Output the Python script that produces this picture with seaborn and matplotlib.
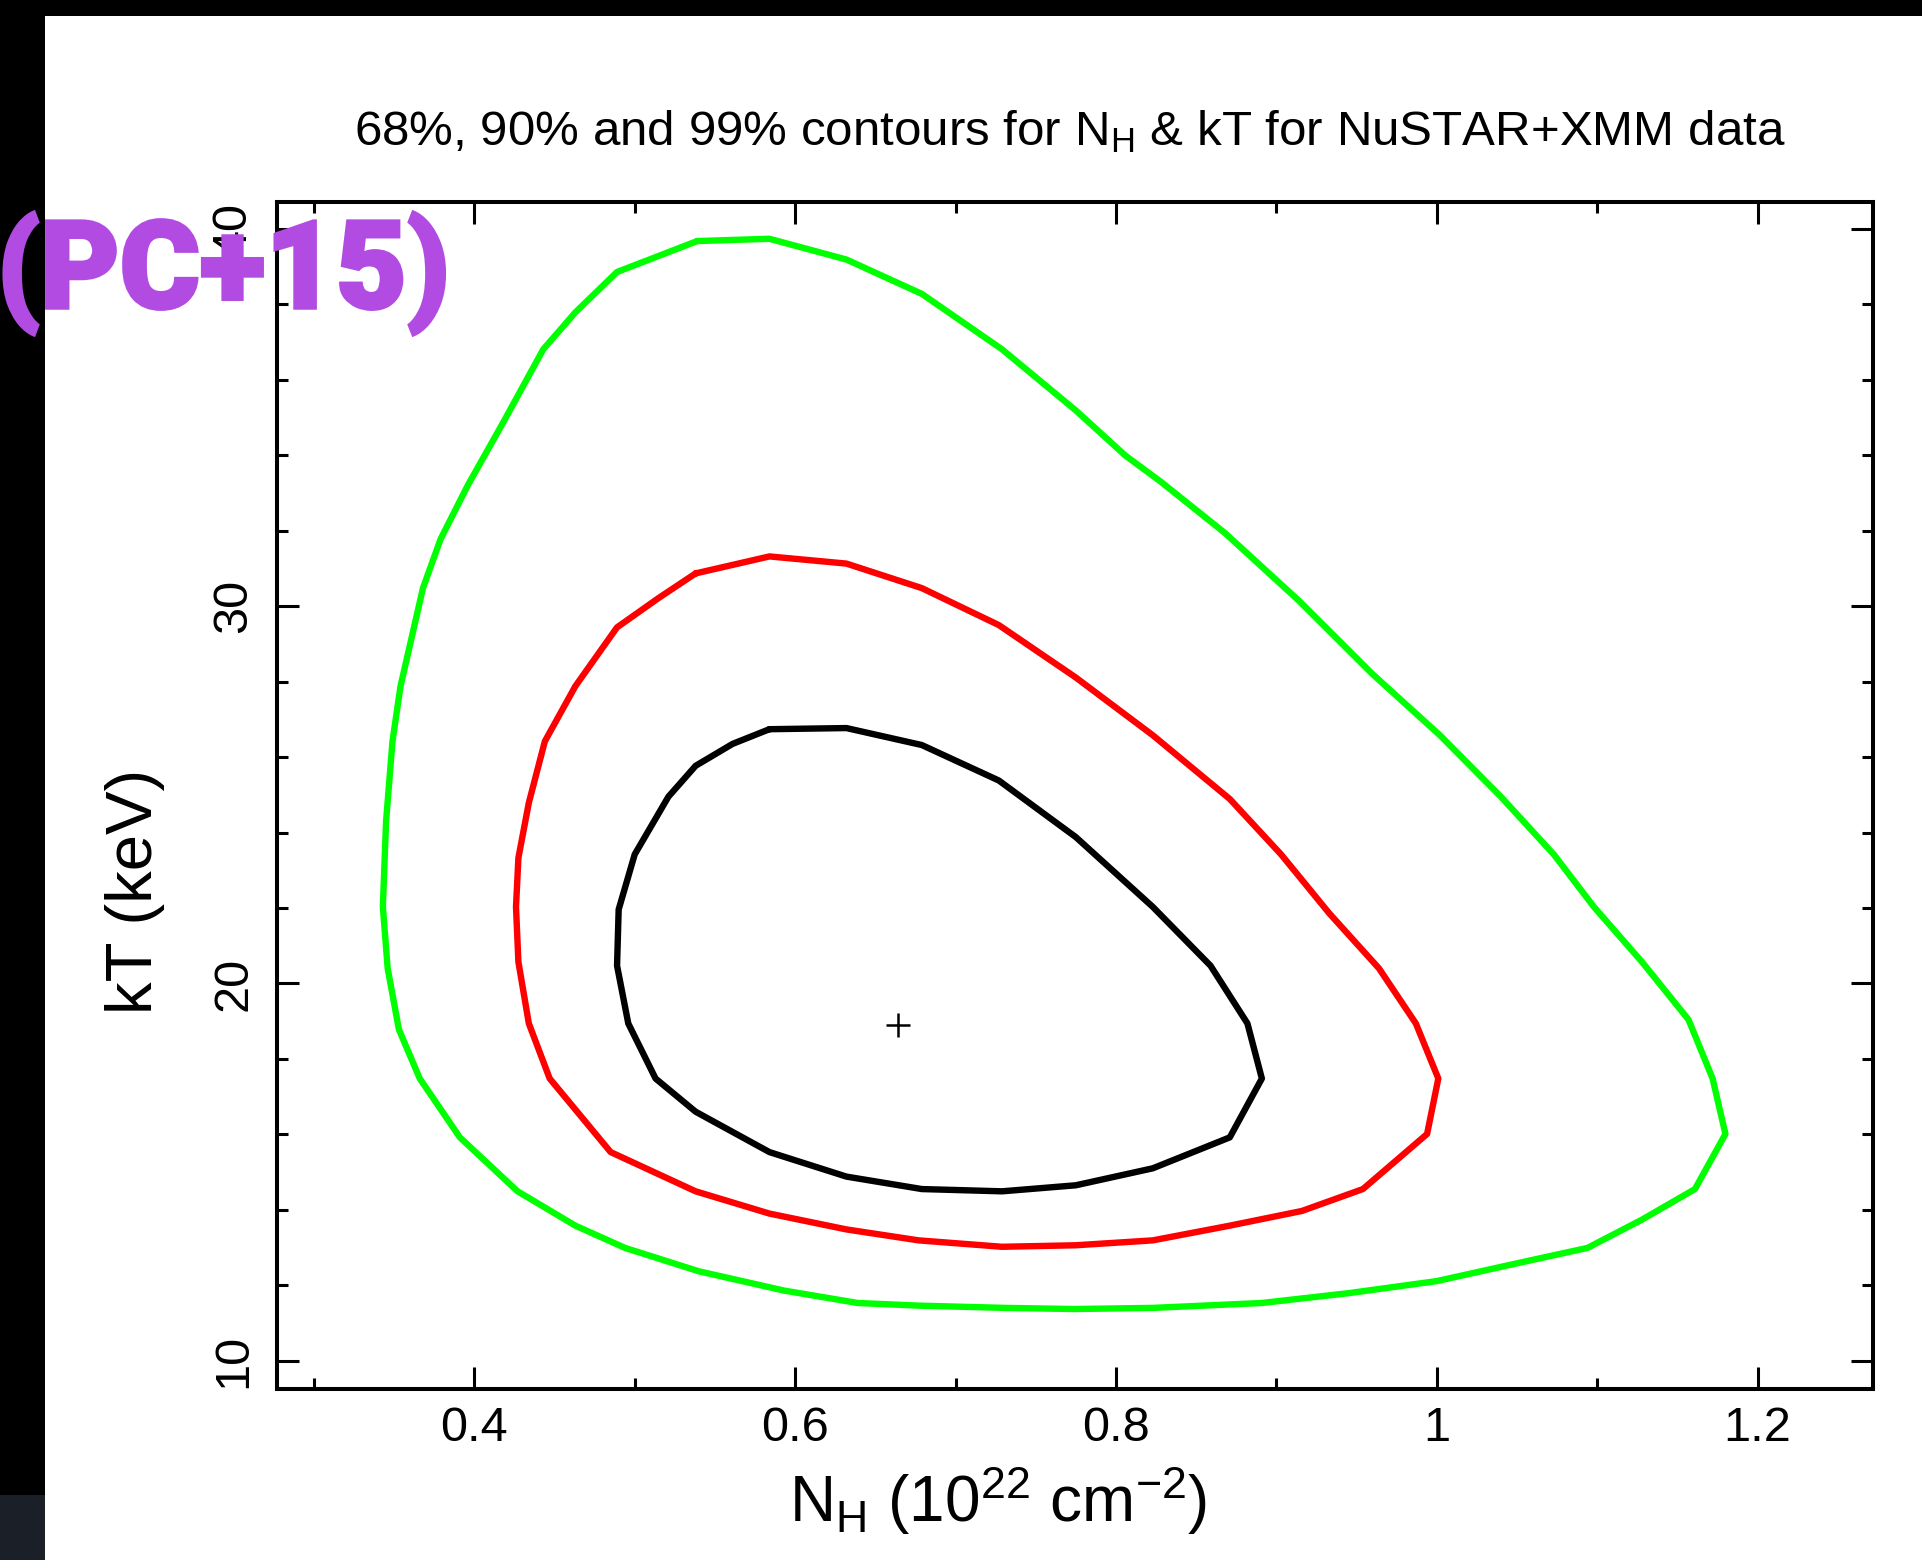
import numpy as np
import pandas as pd
import matplotlib
matplotlib.use("Agg")
import matplotlib.pyplot as plt
from matplotlib.patches import Rectangle
import matplotlib.patheffects as pe
import seaborn as sns

# ---- data ----
green_nh = [0.539, 0.584, 0.632, 0.679, 0.729, 0.775, 0.806, 0.828, 0.868, 0.914, 0.960, 1.002,
            1.040, 1.073, 1.098, 1.128, 1.157, 1.172, 1.180, 1.161, 1.128, 1.094, 1.052, 1.000,
            0.945, 0.891, 0.823, 0.774, 0.731, 0.677, 0.639, 0.593, 0.540, 0.494, 0.463, 0.427,
            0.391, 0.366, 0.353, 0.346, 0.343, 0.345, 0.349, 0.354, 0.368, 0.379, 0.396, 0.418,
            0.443, 0.463, 0.489]
green_kt = [39.68, 39.74, 39.19, 38.28, 36.81, 35.19, 33.99, 33.30, 31.94, 30.15, 28.20, 26.58,
            24.95, 23.42, 22.03, 20.57, 19.04, 17.48, 16.01, 14.55, 13.74, 12.99, 12.60, 12.11,
            11.79, 11.53, 11.40, 11.37, 11.40, 11.46, 11.53, 11.86, 12.37, 12.99, 13.58, 14.49,
            15.92, 17.48, 18.78, 20.40, 22.03, 24.30, 26.42, 27.88, 30.48, 31.78, 33.21, 34.87,
            36.81, 37.79, 38.86]

red_nh = [0.538, 0.584, 0.632, 0.679, 0.727, 0.775, 0.823, 0.871, 0.903, 0.933, 0.964, 0.987,
          1.001, 0.994, 0.954, 0.916, 0.871, 0.823, 0.775, 0.729, 0.677, 0.632, 0.584, 0.538,
          0.485, 0.447, 0.434, 0.4275, 0.426, 0.4275, 0.434, 0.444, 0.463, 0.489, 0.515]
red_kt = [30.87, 31.32, 31.13, 30.48, 29.50, 28.11, 26.58, 24.89, 23.42, 21.86, 20.40, 18.94,
          17.48, 16.01, 14.55, 13.97, 13.58, 13.19, 13.06, 13.02, 13.19, 13.48, 13.90, 14.49,
          15.53, 17.48, 18.94, 20.57, 22.03, 23.33, 24.79, 26.42, 27.88, 29.44, 30.22]

black_nh = [0.584, 0.632, 0.679, 0.727, 0.775, 0.823, 0.859, 0.882, 0.891, 0.871, 0.823, 0.775,
            0.729, 0.679, 0.632, 0.584, 0.538, 0.513, 0.496, 0.489, 0.490, 0.500, 0.521, 0.538,
            0.561]
black_kt = [26.74, 26.77, 26.32, 25.38, 23.88, 22.03, 20.47, 18.94, 17.48, 15.92, 15.10, 14.65,
            14.49, 14.55, 14.88, 15.53, 16.60, 17.48, 18.94, 20.47, 21.96, 23.42, 24.95, 25.77,
            26.35]

best_nh = [0.664]
best_kt = [18.91]

x_major = [0.4, 0.6, 0.8, 1.0, 1.2]
x_labels = ["0.4", "0.6", "0.8", "1", "1.2"]
y_major = [10, 20, 30, 40]
y_labels = ["10", "20", "30", "40"]

title = r"68%, 90% and 99% contours for N$_\mathrm{H}$ & kT for NuSTAR+XMM data"
xlabel = r"N$_\mathrm{H}$ (10$^{22}$ cm$^{-2}$)"
ylabel = "kT (keV)"
stamp = "(PC+15)"

# ---- style ----
sns.set_style("ticks")
plt.rcParams["font.family"] = ["Liberation Sans", "DejaVu Sans"]
plt.rcParams["text.color"] = "black"
plt.rcParams["xtick.color"] = "black"
plt.rcParams["ytick.color"] = "black"
plt.rcParams["mathtext.fontset"] = "custom"
plt.rcParams["mathtext.rm"] = "Liberation Sans"
plt.rcParams["mathtext.it"] = "Liberation Sans:italic"
plt.rcParams["mathtext.bf"] = "Liberation Sans:bold"

W, H = 1922, 1560
fig = plt.figure(figsize=(W / 100, H / 100), dpi=100, facecolor="white")
L, R, T, B = 277, 1873, 202, 1389
ax = fig.add_axes([L / W, 1 - B / H, (R - L) / W, (B - T) / H])
ax.set_facecolor("white")


def closed(a):
    return list(a) + [a[0]]


for xs, ys, col in [(green_nh, green_kt, "#00ff00"),
                    (red_nh, red_kt, "#ff0000"),
                    (black_nh, black_kt, "#000000")]:
    df = pd.DataFrame({"nh": closed(xs), "kt": closed(ys)})
    sns.lineplot(data=df, x="nh", y="kt", sort=False, estimator=None,
                 color=col, lw=4.6, ax=ax)

sns.scatterplot(x=best_nh, y=best_kt, marker="+", s=300, color="black",
                linewidth=1.8, ax=ax)

ax.set_xlim(0.277, 1.272)
ax.set_ylim(9.25, 40.715)
ax.set_xticks(x_major)
ax.set_xticklabels(x_labels)
ax.set_xticks(np.arange(0.3, 1.25, 0.1), minor=True)
ax.set_yticks(y_major)
ax.set_yticklabels(y_labels, rotation=90, va="center")
ax.set_yticks(np.arange(10, 41, 2), minor=True)
ax.set_xlabel("")
ax.set_ylabel("")

for s in ax.spines.values():
    s.set_linewidth(2.9)
    s.set_color("black")
ax.tick_params(which="both", direction="in", top=True, right=True,
               width=2.2, color="black", labelcolor="black")
ax.tick_params(which="major", length=15.8)
ax.tick_params(which="minor", length=7.9)
ax.tick_params(axis="x", which="major", labelsize=35, pad=12)
ax.tick_params(axis="y", which="major", labelsize=35, pad=15)

fig.text(1070 / W, 1 - 145 / H, title, ha="center", va="baseline", fontsize=35.5,
         color="black")
fig.text(789 / W, 1 - 1522 / H, xlabel, ha="left", va="baseline", fontsize=46,
         color="black")
fig.text(135 / W, 1 - 891 / H, ylabel, ha="center", va="center", rotation=90,
         fontsize=47, color="black")

# frame bands of the screenshot
fig.patches.append(Rectangle((0, 1 - 16 / H), 1, 16 / H, transform=fig.transFigure,
                             facecolor="black", edgecolor="none", zorder=5))
fig.patches.append(Rectangle((0, 0), 45 / W, 1, transform=fig.transFigure,
                             facecolor="black", edgecolor="none", zorder=5))
fig.patches.append(Rectangle((0, 0), 45 / W, 65 / H, transform=fig.transFigure,
                             facecolor="#1b1f28", edgecolor="none", zorder=6))

fig.text(-3 / W, 1 - 308 / H, stamp, ha="left", va="baseline", fontsize=88,
         fontfamily=["Roboto", "DejaVu Sans"], fontweight="black", color="#b24be2",
         zorder=20,
         path_effects=[pe.withStroke(linewidth=2.5, foreground="#b24be2",
                                     joinstyle="miter")])

fig.savefig("out.png", dpi=100, facecolor="white")
